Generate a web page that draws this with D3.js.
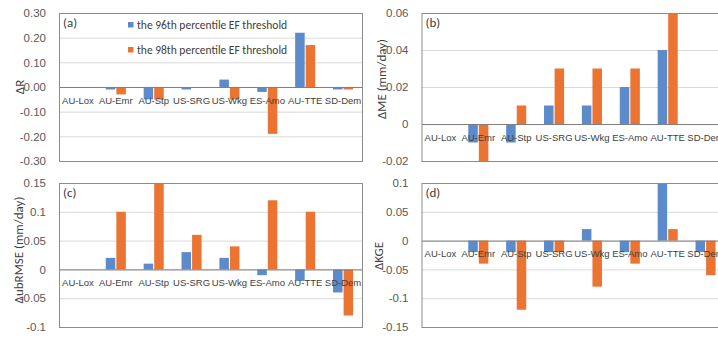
<!DOCTYPE html>
<html>
<head>
<meta charset="utf-8">
<script src="https://cdn.jsdelivr.net/npm/d3@7"></script>
<style>
  body { margin: 0; background: #fff; }
  svg { display: block; font-family: Carlito, Calibri, Lato, "Open Sans", sans-serif; }
</style>
</head>
<body>
<svg width="718" height="338"></svg>
<script>
// sites on the x axis
var sites = ["AU-Lox", "AU-Emr", "AU-Stp", "US-SRG", "US-Wkg", "ES-Amo", "AU-TTE", "SD-Dem"];
var seriesNames = ["the 96th percentile EF threshold", "the 98th percentile EF threshold"];

// (a) delta R
var dR_96 = [0, -0.01, -0.05, -0.01, 0.03, -0.02, 0.22, -0.01];
var dR_98 = [0, -0.03, -0.05, 0, -0.05, -0.19, 0.17, -0.01];
// (b) delta ME
var dME_96 = [0, -0.01, -0.01, 0.01, 0.01, 0.02, 0.04, 0];
var dME_98 = [0, -0.02, 0.01, 0.03, 0.03, 0.03, 0.06, 0];
// (c) delta ubRMSE
var dUb_96 = [0, 0.02, 0.01, 0.03, 0.02, -0.01, -0.02, -0.04];
var dUb_98 = [0, 0.1, 0.15, 0.06, 0.04, 0.12, 0.1, -0.08];
// (d) delta KGE
var dKGE_96 = [0, -0.02, -0.02, -0.02, 0.02, -0.02, 0.1, -0.02];
var dKGE_98 = [0, -0.04, -0.12, -0.02, -0.08, -0.04, 0.02, -0.06];

// y ticks
var ticksR = [-0.3, -0.2, -0.1, 0, 0.1, 0.2, 0.3];
var ticksME = [-0.02, 0, 0.02, 0.04, 0.06];
var ticksUb = [-0.1, -0.05, 0, 0.05, 0.1, 0.15];
var ticksKGE = [-0.15, -0.1, -0.05, 0, 0.05, 0.1];

var colors = ["#5b8bcb", "#ec7433"];

var svg = d3.select("svg");

var panels = [
    {tag: "(a)", title: "\u0394R", s1: dR_96, s2: dR_98, ticks: ticksR, fmt: function(v){ return v.toFixed(2); },
     left: 59, top: 13, width: 303, height: 148, titleX: 19, titleY: 87, legend: true},
    {tag: "(b)", title: "\u0394ME (mm/day)", s1: dME_96, s2: dME_98, ticks: ticksME, fmt: function(v){ return String(+v.toFixed(2)); },
     left: 421.5, top: 13, width: 303, height: 148, titleX: 381, titleY: 79},
    {tag: "(c)", title: "\u0394ubRMSE (mm/day)", s1: dUb_96, s2: dUb_98, ticks: ticksUb, fmt: function(v){ return String(+v.toFixed(2)); },
     left: 59, top: 183, width: 303, height: 144, titleX: 18, titleY: 250},
    {tag: "(d)", title: "\u0394KGE", s1: dKGE_96, s2: dKGE_98, ticks: ticksKGE, fmt: function(v){ return String(+v.toFixed(2)); },
     left: 421.5, top: 183, width: 303, height: 144, titleX: 378, titleY: 256}
];

panels.forEach(function(p){ drawPanel(p); });

function drawPanel(p) {
    var g = svg.append("g").attr("transform", "translate(" + p.left + "," + p.top + ")");

    var x0 = d3.scaleBand().domain(sites).range([0, p.width]).paddingInner(0.47).paddingOuter(0.235);
    var x1 = d3.scaleBand().domain([0, 1]).range([0, x0.bandwidth()]).paddingInner(0.1);
    var y = d3.scaleLinear().domain(d3.extent(p.ticks)).range([p.height, 0]);

    // gridlines
    g.append("g")
        .call(d3.axisLeft(y).tickValues(p.ticks).tickSize(-p.width).tickFormat(""))
        .call(function(a){ a.select(".domain").remove(); })
        .selectAll("line").attr("stroke", "#d9d9d9");

    // y tick labels
    var ya = g.append("g")
        .call(d3.axisLeft(y).tickValues(p.ticks).tickSize(0).tickPadding(13).tickFormat(p.fmt));
    ya.select(".domain").remove();
    ya.selectAll("text").attr("fill", "#595959").attr("font-size", 11.5);

    // bars
    var rows = sites.map(function(s, i){ return {site: s, vals: [p.s1[i], p.s2[i]]}; });
    g.append("g").selectAll("g")
        .data(rows)
        .enter().append("g")
        .attr("transform", function(d){ return "translate(" + x0(d.site) + ",0)"; })
        .selectAll("rect")
        .data(function(d){ return d.vals.map(function(v, k){ return {k: k, v: v}; }); })
        .enter().append("rect")
        .attr("x", function(d){ return x1(d.k); })
        .attr("y", function(d){ return y(Math.max(0, d.v)); })
        .attr("width", x1.bandwidth())
        .attr("height", function(d){ return Math.abs(y(d.v) - y(0)); })
        .attr("fill", function(d){ return colors[d.k]; });

    // category axis at zero
    var xa = g.append("g")
        .attr("transform", "translate(0," + y(0) + ")")
        .call(d3.axisBottom(x0).tickSize(0).tickPadding(10));
    xa.select(".domain").attr("stroke", "#7f7f7f");
    xa.selectAll("text").attr("fill", "#404040").attr("font-size", 9.5);

    // plot border
    g.append("rect")
        .attr("x", 0.5).attr("y", 0.5)
        .attr("width", p.width).attr("height", p.height)
        .attr("fill", "none").attr("stroke", "#8c8c8c");

    // panel tag
    g.append("text")
        .attr("x", 4).attr("y", 14)
        .attr("font-size", 13)
        .attr("fill", "#404040")
        .text(p.tag);

    // y axis title
    svg.append("text")
        .attr("transform", "translate(" + p.titleX + "," + p.titleY + ") rotate(-90)")
        .attr("text-anchor", "middle")
        .attr("dy", "0.35em")
        .attr("font-size", 13)
        .attr("fill", "#404040")
        .text(p.title);

    if (p.legend) {
        var leg = g.append("g")
            .selectAll("g")
            .data(seriesNames)
            .enter().append("g")
            .attr("transform", function(d, i){ return "translate(69," + (9 + i * 25) + ")"; });
        leg.append("rect")
            .attr("width", 5.5).attr("height", 5.5)
            .attr("fill", function(d, i){ return colors[i]; });
        leg.append("text")
            .attr("x", 9).attr("y", 3)
            .attr("dy", "0.35em")
            .attr("font-size", 11.5)
            .attr("fill", "#404040")
            .text(function(d){ return d; });
    }
}
</script>
</body>
</html>
